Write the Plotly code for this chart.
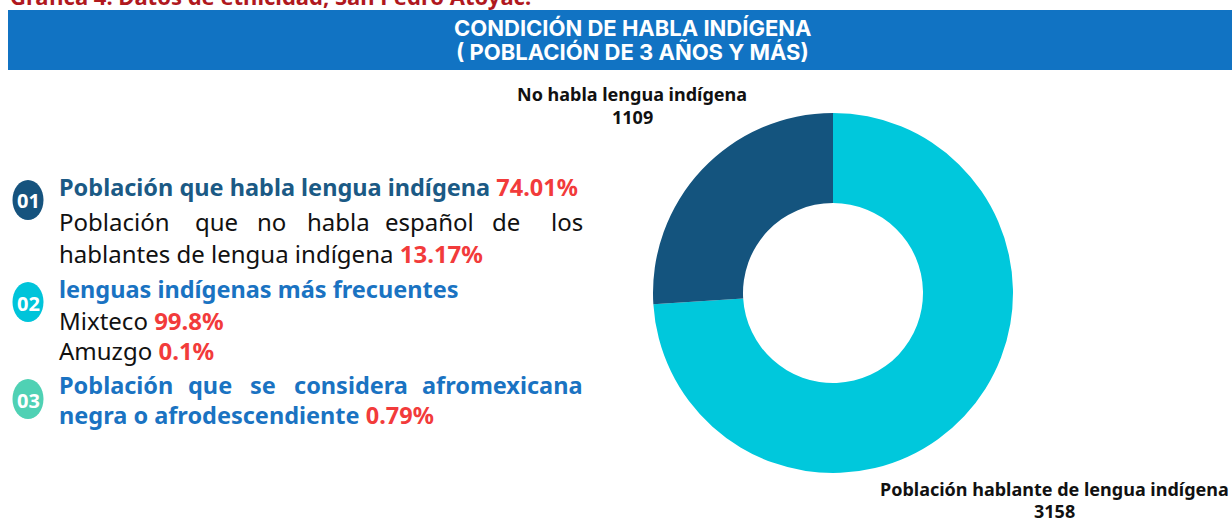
import plotly.graph_objects as go

# ---------------- data ----------------
# order: drawn clockwise from 12 o'clock, so the dark slice ends at 12 o'clock
slice_labels = ["Población hablante de lengua indígena", "No habla lengua indígena"]
slice_values = [3158, 1109]
slice_colors = ["#00C8DC", "#14547E"]

title_lines = ["CONDICIÓN DE HABLA INDÍGENA", "( POBLACIÓN DE 3 AÑOS Y MÁS)"]
caption = "Gráfica 4. Datos de etnicidad, San Pedro Atoyac."

badge_labels = ["01", "02", "03"]
badge_colors = ["#16537E", "#00C4DA", "#4FD1B4"]

pct_habla = "74.01%"
pct_no_espanol = "13.17%"
lenguas = ["Mixteco", "Amuzgo"]
lenguas_pct = ["99.8%", "0.1%"]
pct_afro = "0.79%"

W, H = 1232, 520
RED = "#F23B3B"
DARKBLUE = "#1B5A85"
BLUE = "#1A73C2"
BODY = "Noto Sans"


def X(px):
    return px / W


def Y(py):
    return 1 - py / H


fig = go.Figure()

fig.add_trace(go.Pie(
    labels=slice_labels,
    values=slice_values,
    marker=dict(colors=slice_colors, line=dict(width=0)),
    hole=0.5,
    sort=False,
    direction="clockwise",
    rotation=0,
    textinfo="none",
    domain=dict(x=[X(653), X(1013)], y=[Y(473), Y(113)]),
    showlegend=False,
))

shapes = []
annotations = []


def ann(text, px, py, size, color, family=BODY, anchor="left"):
    annotations.append(dict(text=text, x=X(px), y=Y(py), xref="paper", yref="paper",
                            xanchor=anchor, yanchor="middle", showarrow=False,
                            font=dict(family=family, size=size, color=color)))


# banner
shapes.append(dict(type="rect", xref="paper", yref="paper",
                   x0=X(8), x1=X(1232), y0=Y(70), y1=Y(10),
                   fillcolor="#1173C3", line=dict(width=0), layer="below"))
for i, t in enumerate(title_lines):
    ann(f"<b>{t}</b>", 632, 28 + 24 * i, 22, "white", family="Inter", anchor="center")

# cut-off caption at top
ann(f"<b>{caption}</b>", 8, -4, 22, "#B0181E")

# slice labels
ann(f"<b>{slice_labels[1]}</b>", 632, 94, 18, "#111", anchor="center")
ann(f"<b>{slice_values[1]}</b>", 632, 117, 18, "#111", anchor="center")
ann(f"<b>{slice_labels[0]}</b>", 1054, 489, 18, "#111", anchor="center")
ann(f"<b>{slice_values[0]}</b>", 1054, 511, 18, "#111", anchor="center")

# badges
badge_y = [200, 302, 399]
for lab, col, by in zip(badge_labels, badge_colors, badge_y):
    shapes.append(dict(type="circle", xref="paper", yref="paper",
                       x0=X(12.5), x1=X(43.5), y0=Y(by + 20), y1=Y(by - 20),
                       fillcolor=col, line=dict(width=0)))
    ann(f"<b>{lab}</b>", 28, by + 1, 20, "white", anchor="center")


def red(t):
    return f"<span style='color:{RED}'><b>{t}</b></span>"


def justified(words, centers, py, color, bold=False, size=20):
    n = len(words)
    for i, w in enumerate(words):
        t = f"<b>{w}</b>" if bold else w
        if i == 0:
            ann(t, 57, py, size, color, anchor="left")
        elif i == n - 1:
            ann(t, 585, py, size, color, anchor="right")
        else:
            ann(t, centers[i - 1], py, size, color, anchor="center")


HEAD = 23.5
TXT = 24

# block 01
ann(f"<b>Población que habla lengua indígena</b> {red(pct_habla)}", 57, 187, HEAD, DARKBLUE)
justified("Población que no habla español de los".split(),
          [216, 271, 338, 429, 506], 221, "#111", size=TXT)
ann(f"hablantes de lengua indígena {red(pct_no_espanol)}", 57, 253, TXT, "#111")

# block 02
ann("<b>lenguas indígenas más frecuentes</b>", 57, 289, HEAD, BLUE)
ann(f"{lenguas[0]} {red(lenguas_pct[0])}", 57, 320, TXT, "#111")
ann(f"{lenguas[1]} {red(lenguas_pct[1])}", 57, 350, TXT, "#111")

# block 03
justified("Población que se considera afromexicana".split(),
          [210, 263, 351], 385, BLUE, bold=True, size=HEAD)
ann(f"<b>negra o afrodescendiente</b> {red(pct_afro)}", 57, 415, HEAD, BLUE)

fig.update_layout(
    width=W, height=H,
    margin=dict(l=0, r=0, t=0, b=0),
    paper_bgcolor="white", plot_bgcolor="white",
    shapes=shapes, annotations=annotations,
    showlegend=False,
)

fig.write_html("out.html", config={"displayModeBar": False},
               post_script="document.body.style.margin='0';document.body.style.overflow='hidden';")
